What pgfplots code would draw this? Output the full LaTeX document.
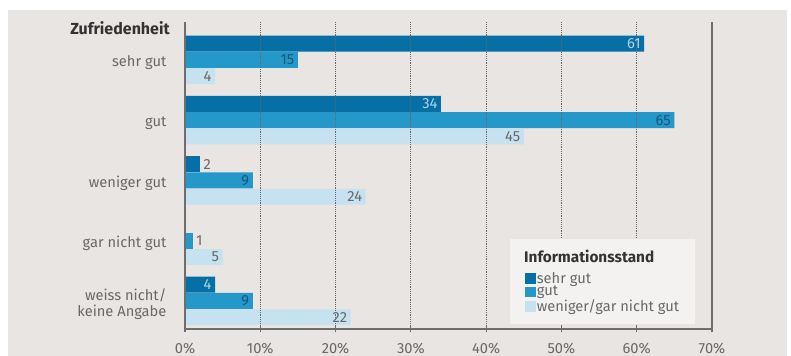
\documentclass[border=0pt]{standalone}
\usepackage{pgfplots}
\pgfplotsset{compat=1.18}
\usepackage{fontspec}
\setmainfont{Fira Sans}
\definecolor{bg}{RGB}{233,229,226}
\definecolor{c1}{RGB}{6,112,166}
\definecolor{c2}{RGB}{36,152,200}
\definecolor{c3}{RGB}{198,225,240}
\definecolor{txt}{RGB}{105,105,105}
\definecolor{axgray}{RGB}{110,110,110}
\definecolor{lab1}{RGB}{175,210,232}
\definecolor{lab2}{RGB}{25,85,125}
\definecolor{legbg}{RGB}{243,242,240}
\begin{document}
\begin{tikzpicture}
\path[use as bounding box] (0pt,0pt) rectangle (593.25pt,267pt);
\fill[bg] (6pt,0pt) rectangle (590.25pt,259.5pt);
\begin{axis}[
  at={(138.75pt,20.25pt)}, anchor=south west,
  scale only axis, width=395.25pt, height=230.25pt,
  clip=false,
  xbar, bar width=0.265,
  xmin=0, xmax=70, ymin=-0.465, ymax=4.63,
  axis x line*=bottom, axis y line*=left,
  axis line style={draw=axgray, line width=0.9pt},
  xtick={0,10,...,60}, extra x ticks={70},
  extra x tick style={grid style={solid, draw=axgray, line width=0.9pt}},
  xmajorgrids, grid style={densely dotted, draw=black!60, line width=0.8pt},
  xticklabel={\pgfmathprintnumber{\tick}\%},
  /pgf/number format/assume math mode=true,
  font=\fontsize{11}{12}\selectfont,
  xticklabel style={inner sep=0pt, yshift=-8pt, text=txt},
  xtick style={draw=axgray, line width=0.9pt},
  major tick length=5pt, tick align=center,
  ytick={0,...,4},
  yticklabels={{weiss nicht/\\keine Angabe}, gar nicht gut, weniger gut, gut, sehr gut},
  yticklabel style={inner sep=0pt, xshift=-11.25pt, yshift=-2pt, align=right, text=txt},
  ytick style={draw=none},
  axis on top,
  legend cell align=left,
  legend image code/.code={\fill[#1] (0pt,-4pt) rectangle (8pt,4pt);},
  legend style={at={(axis description cs:0.6165,0.016)}, anchor=south west,
    fill=legbg, draw=none, text=txt, row sep=-1pt,
    inner xsep=11pt, inner ysep=7pt, nodes={inner sep=1pt},
    font=\fontsize{11}{12}\selectfont},
  nodes near coords,
  every node near coord/.append style={font=\fontsize{11}{12}\selectfont},
]
\addlegendimage{empty legend}
\addlegendentry{\hspace*{-9.5pt}\raisebox{5pt}{\fontsize{11.5}{12}\selectfont\textbf{\color{black!80}Informationsstand}}}
% sehr gut (Informationsstand)
\addplot[fill=c1, draw=none, bar shift=0.27,
  nodes near coords style={anchor=east, text=lab1, inner sep=2.5pt}]
  coordinates {(61,4) (34,3) (4,0)};
\addlegendentry{sehr gut}
\addplot[fill=c1, draw=none, bar shift=0.27, forget plot,
  nodes near coords style={anchor=west, text=txt, inner sep=2.5pt}]
  coordinates {(2,2)};
% gut
\addplot[fill=c2, draw=none, bar shift=0,
  nodes near coords style={anchor=east, text=lab2, inner sep=2.5pt}]
  coordinates {(15,4) (65,3) (9,2) (9,0)};
\addlegendentry{gut}
\addplot[fill=c2, draw=none, bar shift=0, forget plot,
  nodes near coords style={anchor=west, text=txt, inner sep=2.5pt}]
  coordinates {(1,1)};
% weniger/gar nicht gut
\addplot[fill=c3, draw=none, bar shift=-0.27,
  nodes near coords style={anchor=east, text=txt, inner sep=2.5pt}]
  coordinates {(4,4) (45,3) (24,2) (5,1) (22,0)};
\addlegendentry{weniger/gar nicht gut}
\node[anchor=east, inner sep=0pt, font=\fontsize{12}{12}\selectfont\bfseries, text=black!80]
  at (axis description cs:0,0.98) [xshift=-11.25pt] {Zufriedenheit};
\end{axis}
\end{tikzpicture}
\end{document}
